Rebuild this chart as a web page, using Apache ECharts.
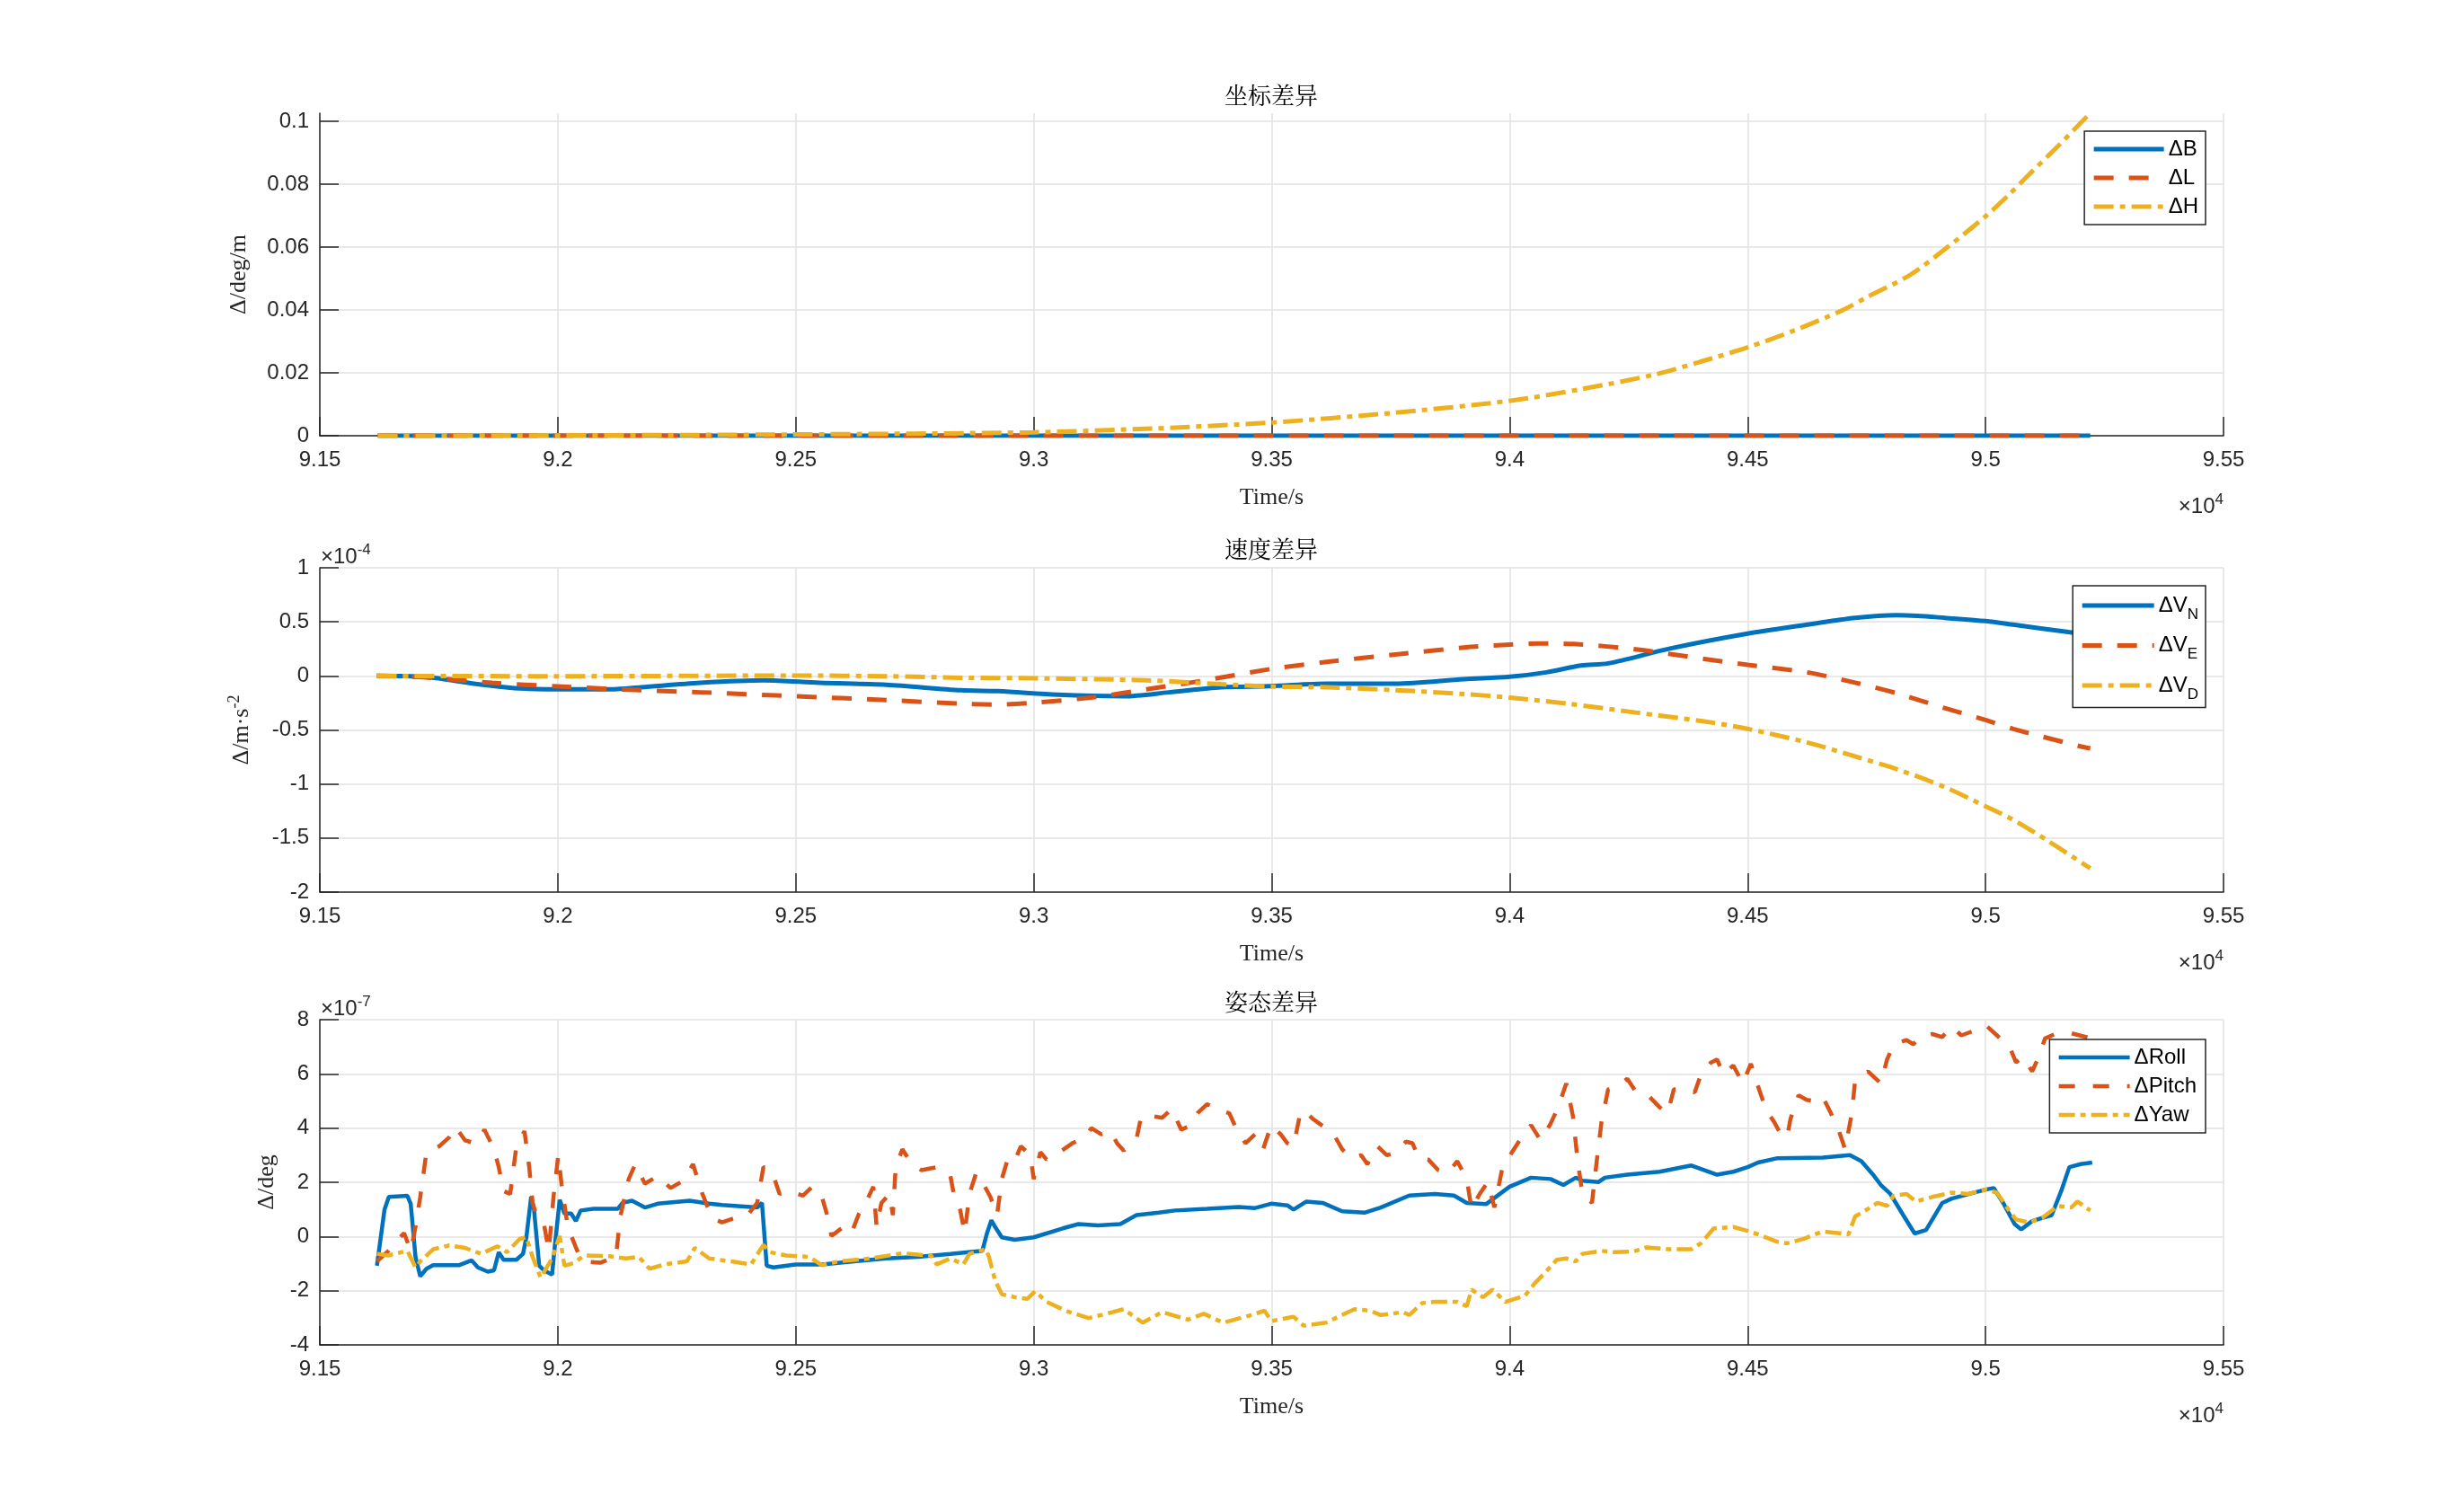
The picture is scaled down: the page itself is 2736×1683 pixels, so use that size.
<!DOCTYPE html>
<html>
<head>
<meta charset="utf-8">
<script src="https://cdn.jsdelivr.net/npm/echarts@6/dist/echarts.min.js"></script>
<style>
  html, body { margin: 0; padding: 0; background: #fff; }
  #chart { width: 2736px; height: 1683px; }
</style>
</head>
<body>
<div id="chart"></div>
<script>
// time axis (s)
const timeMin = 91500, timeMax = 95500, timeStep = 500;

// ---- coordinate difference (deg / m) ----
const dB = [[91622, 0], [95220, 0]];
const dL = [[91622, 0], [95220, 0]];
const dH = [[91622, 0], [92000, 0.0001], [92500, 0.0004], [93000, 0.0011], [93250, 0.0023],
  [93500, 0.0042], [93750, 0.0072], [94000, 0.0111], [94150, 0.0148], [94309, 0.0196],
  [94400, 0.0235], [94500, 0.0281], [94600, 0.0336], [94699, 0.0399], [94750, 0.0440],
  [94843, 0.0513], [94920, 0.0600], [95000, 0.0698], [95050, 0.0768], [95088, 0.0826],
  [95150, 0.0918], [95219, 0.1025]];

// ---- velocity difference (x1e-4 m/s) ----
const dVN = [[91620, 0], [91722, -0.01], [91831, -0.077], [91909, -0.113], [92000, -0.124],
  [92112, -0.124], [92175, -0.105], [92300, -0.064], [92433, -0.041], [92550, -0.064],
  [92690, -0.083], [92847, -0.133], [92925, -0.141], [93050, -0.174], [93190, -0.188],
  [93284, -0.152], [93394, -0.105], [93498, -0.095], [93615, -0.072], [93760, -0.072],
  [93904, -0.030], [94000, -0.008], [94077, 0.033], [94150, 0.096], [94207, 0.116],
  [94337, 0.253], [94500, 0.391], [94625, 0.474], [94726, 0.537], [94813, 0.562],
  [94856, 0.556], [94914, 0.537], [95000, 0.507], [95058, 0.474], [95174, 0.405], [95220, 0.38]];
const dVE = [[91620, 0], [91722, -0.014], [91862, -0.064], [92000, -0.097], [92175, -0.133],
  [92300, -0.152], [92500, -0.188], [92690, -0.224], [92847, -0.257], [92925, -0.265],
  [93000, -0.249], [93128, -0.196], [93237, -0.124], [93347, -0.050], [93500, 0.065],
  [93615, 0.129], [93760, 0.198], [93904, 0.262], [94000, 0.289], [94062, 0.300],
  [94135, 0.295], [94265, 0.245], [94409, 0.157], [94500, 0.102], [94625, 0.033],
  [94726, -0.063], [94813, -0.16], [94914, -0.298], [95000, -0.408], [95058, -0.49],
  [95203, -0.656], [95220, -0.67]];
const dVD = [[91620, 0], [91988, -0.003], [92500, 0.003], [92690, -0.003], [92847, -0.017],
  [93000, -0.022], [93237, -0.041], [93394, -0.077], [93500, -0.099], [93615, -0.105],
  [93760, -0.132], [93904, -0.168], [94000, -0.201], [94120, -0.256], [94265, -0.339],
  [94409, -0.421], [94500, -0.490], [94625, -0.615], [94726, -0.745], [94813, -0.862],
  [94914, -1.028], [95000, -1.207], [95058, -1.331], [95130, -1.523], [95220, -1.78]];

// ---- attitude difference (x1e-7 deg) ----
const dRoll = [[91620, -1.08], [91636, 1.0], [91645, 1.46], [91684, 1.5], [91691, 1.2], [91701, -0.75],
  [91711, -1.47], [91724, -1.19], [91738, -1.06], [91792, -1.06], [91819, -0.88], [91832, -1.14],
  [91853, -1.3], [91866, -1.25], [91876, -0.58], [91886, -0.86], [91913, -0.86], [91927, -0.64],
  [91934, -0.03], [91944, 1.46], [91950, 1.0], [91961, -1.08], [91971, -1.25], [91988, -1.41],
  [91994, -0.31], [92004, 1.35], [92014, 0.85], [92028, 0.85], [92038, 0.57], [92048, 0.96],
  [92075, 1.02], [92126, 1.02], [92136, 1.24], [92156, 1.32], [92183, 1.07], [92210, 1.21],
  [92277, 1.32], [92318, 1.21], [92345, 1.16], [92419, 1.07], [92429, 1.24], [92439, -1.08],
  [92453, -1.14], [92500, -1.03], [92555, -1.03], [92623, -0.92], [92690, -0.81], [92757, -0.75],
  [92825, -0.64], [92892, -0.53], [92902, 0.13], [92911, 0.6], [92919, 0.35], [92933, -0.03],
  [92960, -0.12], [93000, -0.03], [93061, 0.3], [93094, 0.46], [93135, 0.41], [93182, 0.46],
  [93216, 0.79], [93263, 0.88], [93297, 0.96], [93364, 1.02], [93431, 1.09], [93465, 1.05],
  [93499, 1.21], [93533, 1.15], [93546, 0.99], [93573, 1.29], [93607, 1.24], [93648, 0.93],
  [93695, 0.88], [93729, 1.07], [93789, 1.51], [93843, 1.57], [93883, 1.51], [93910, 1.24],
  [93951, 1.2], [94000, 1.84], [94045, 2.17], [94086, 2.12], [94113, 1.9], [94139, 2.17],
  [94153, 2.06], [94187, 2.01], [94200, 2.17], [94247, 2.28], [94315, 2.39], [94382, 2.62],
  [94436, 2.28], [94470, 2.39], [94500, 2.56], [94522, 2.73], [94563, 2.89], [94658, 2.91],
  [94715, 3.0], [94739, 2.78], [94766, 2.23], [94780, 1.9], [94800, 1.57], [94827, 0.79],
  [94851, 0.11], [94875, 0.24], [94909, 1.24], [94929, 1.4], [95000, 1.73], [95017, 1.79],
  [95037, 1.24], [95061, 0.46], [95075, 0.26], [95098, 0.57], [95139, 0.79], [95159, 1.68],
  [95176, 2.56], [95200, 2.67], [95224, 2.73]];
const dPitch = [[91620, -0.92], [91644, -0.53], [91677, 0.13], [91691, -0.53], [91701, 0.35], [91711, 1.46],
  [91724, 3.11], [91751, 3.33], [91772, 3.66], [91785, 4.05], [91805, 3.55], [91826, 3.44],
  [91846, 3.94], [91866, 3.22], [91876, 2.56], [91886, 1.68], [91900, 1.57], [91913, 3.33],
  [91930, 3.89], [91940, 2.56], [91947, 1.24], [91957, 0.68], [91971, 0.46], [91981, -0.53],
  [91991, 1.46], [92001, 3.0], [92008, 1.9], [92021, 0.35], [92041, -0.53], [92055, -0.92],
  [92089, -0.97], [92122, -0.75], [92132, 0.79], [92149, 2.12], [92163, 2.67], [92183, 1.95],
  [92210, 2.23], [92237, 1.79], [92264, 2.06], [92284, 2.67], [92304, 1.57], [92324, 0.68],
  [92345, 0.52], [92372, 0.68], [92399, 0.79], [92419, 1.24], [92432, 2.56], [92449, 2.45],
  [92466, 1.57], [92486, 1.68], [92515, 1.51], [92535, 1.84], [92555, 1.46], [92565, 0.85],
  [92575, 0.02], [92596, 0.3], [92616, 0.08], [92633, 0.85], [92650, 1.35], [92663, 1.84],
  [92670, 0.35], [92680, 1.24], [92697, 1.57], [92704, 0.79], [92710, 2.56], [92724, 3.22],
  [92744, 2.67], [92764, 2.45], [92798, 2.56], [92825, 2.23], [92832, 1.57], [92845, 1.02],
  [92855, 0.13], [92865, 1.57], [92879, 2.34], [92892, 2.01], [92909, 1.46], [92923, 0.79],
  [92933, 2.12], [92946, 2.89], [92960, 2.78], [92973, 3.33], [92993, 3.0], [93000, 2.12],
  [93014, 3.11], [93027, 2.84], [93054, 3.11], [93081, 3.44], [93108, 3.66], [93121, 4.0],
  [93142, 3.77], [93162, 3.89], [93175, 3.44], [93189, 3.17], [93216, 3.61], [93226, 4.44],
  [93249, 4.44], [93270, 4.38], [93290, 4.71], [93310, 3.94], [93331, 4.11], [93344, 4.55],
  [93364, 4.88], [93391, 4.66], [93411, 4.55], [93428, 3.89], [93445, 3.44], [93465, 3.77],
  [93482, 3.22], [93499, 4.11], [93519, 3.77], [93533, 3.44], [93546, 3.33], [93560, 4.55],
  [93567, 4.66], [93587, 4.33], [93614, 4.0], [93634, 3.66], [93648, 3.22], [93668, 2.89],
  [93688, 3.0], [93701, 2.67], [93722, 3.33], [93742, 3.0], [93762, 3.11], [93782, 3.5],
  [93796, 3.44], [93809, 2.89], [93829, 2.84], [93850, 2.45], [93870, 2.34], [93890, 2.78],
  [93910, 2.12], [93920, 1.02], [93937, 1.57], [93954, 2.01], [93968, 1.07], [93985, 2.56],
  [94005, 3.11], [94025, 3.66], [94045, 4.11], [94065, 3.55], [94086, 4.16], [94102, 4.77],
  [94119, 5.65], [94133, 4.44], [94143, 2.78], [94153, 1.57], [94173, 1.24], [94183, 2.78],
  [94193, 4.22], [94207, 5.43], [94227, 5.54], [94247, 5.82], [94268, 5.27], [94294, 5.15],
  [94315, 4.77], [94332, 4.55], [94345, 5.43], [94369, 5.43], [94389, 5.32], [94402, 5.98],
  [94423, 6.42], [94436, 6.53], [94449, 5.98], [94470, 6.31], [94490, 5.65], [94507, 6.37],
  [94522, 5.54], [94539, 4.66], [94556, 4.22], [94570, 3.77], [94583, 3.66], [94590, 4.33],
  [94607, 5.21], [94624, 5.04], [94644, 4.99], [94658, 5.15], [94675, 4.55], [94692, 3.89],
  [94705, 3.22], [94719, 4.55], [94726, 5.76], [94753, 6.09], [94780, 5.65], [94793, 6.53],
  [94807, 7.09], [94834, 7.25], [94848, 7.09], [94861, 7.36], [94888, 7.47], [94909, 7.36],
  [94929, 7.75], [94949, 7.42], [94983, 7.64], [95000, 7.8], [95024, 7.42], [95051, 6.98],
  [95064, 6.42], [95078, 6.64], [95098, 6.09], [95112, 6.64], [95125, 7.31], [95146, 7.47],
  [95180, 7.5], [95224, 7.3]];
const dYaw = [[91620, -0.64], [91644, -0.7], [91671, -0.58], [91684, -0.53], [91701, -1.14], [91711, -0.92],
  [91738, -0.47], [91772, -0.33], [91805, -0.42], [91839, -0.64], [91873, -0.36], [91893, -0.58],
  [91920, -0.09], [91934, -0.03], [91947, -0.75], [91964, -1.52], [91988, -0.81], [92004, 0.02],
  [92014, -1.08], [92035, -0.97], [92055, -0.7], [92109, -0.73], [92143, -0.81], [92170, -0.75],
  [92193, -1.19], [92224, -1.03], [92271, -0.92], [92288, -0.42], [92318, -0.81], [92365, -0.92],
  [92406, -1.03], [92432, -0.31], [92446, -0.58], [92480, -0.7], [92528, -0.75], [92555, -1.06],
  [92589, -0.92], [92656, -0.81], [92724, -0.62], [92757, -0.67], [92784, -0.7], [92796, -1.03],
  [92825, -0.81], [92852, -1.03], [92865, -0.64], [92899, -0.47], [92906, -0.75], [92919, -1.63],
  [92933, -2.13], [92960, -2.24], [92987, -2.3], [93003, -2.02], [93027, -2.41], [93067, -2.74],
  [93115, -3.01], [93142, -2.9], [93189, -2.68], [93229, -3.18], [93270, -2.79], [93324, -3.07],
  [93357, -2.85], [93398, -3.18], [93445, -2.96], [93485, -2.74], [93499, -3.12], [93546, -2.96],
  [93567, -3.29], [93614, -3.18], [93674, -2.68], [93708, -2.74], [93729, -2.9], [93776, -2.79],
  [93789, -2.9], [93816, -2.46], [93843, -2.41], [93890, -2.41], [93910, -2.57], [93920, -1.96],
  [93944, -2.24], [93964, -1.96], [93991, -2.41], [94032, -2.19], [94052, -1.74], [94079, -1.25],
  [94099, -0.86], [94119, -0.81], [94139, -0.92], [94153, -0.64], [94193, -0.53], [94220, -0.58],
  [94261, -0.55], [94288, -0.4], [94335, -0.47], [94382, -0.47], [94402, -0.25], [94429, 0.3],
  [94470, 0.35], [94503, 0.19], [94522, 0.08], [94563, -0.2], [94583, -0.25], [94617, -0.09],
  [94658, 0.19], [94712, 0.08], [94726, 0.74], [94753, 1.02], [94773, 1.24], [94793, 1.13],
  [94807, 1.51], [94834, 1.57], [94854, 1.29], [94888, 1.46], [94929, 1.62], [94963, 1.57],
  [95000, 1.73], [95024, 1.62], [95051, 0.91], [95064, 0.63], [95091, 0.52], [95119, 0.68],
  [95152, 1.13], [95180, 1.07], [95193, 1.29], [95220, 0.96]];

const titles = ['坐标差异', '速度差异', '姿态差异'];
const yNames = ['Δ/deg/m', '{a|Δ/m·s}{b|-2}', 'Δ/deg'];
const yRanges = [[0, 0.1026, 0.02], [-2, 1, 0.5], [-4, 8, 2]];

const blue = '#0072BD', red = '#D95319', yellow = '#EDB120';
const ink = '#262626';
const sans = '"Liberation Sans", Arial, sans-serif';
const serif = '"Liberation Serif", "Times New Roman", serif';
const cjk = '"Noto Serif CJK SC", "Noto Sans CJK SC", serif';

const grids = [
  { left: 356, right: 261, top: 126, height: 359 },
  { left: 356, right: 261, top: 632, height: 361 },
  { left: 356, right: 261, top: 1135, height: 362 }
];
const titleTops = [93, 598, 1102];
const yNameGaps = [77, 70, 46];

const xAxes = grids.map((g, i) => ({
  type: 'value', gridIndex: i, min: timeMin, max: timeMax, interval: timeStep,
  name: 'Time/s', nameLocation: 'middle', nameGap: 56,
  nameTextStyle: { fontFamily: serif, fontSize: 26, color: ink },
  axisLine: { show: true, onZero: false, lineStyle: { color: ink, width: 1.5 } },
  axisTick: { show: true, inside: true, length: 21, lineStyle: { color: ink, width: 1.5 } },
  axisLabel: { fontFamily: sans, fontSize: 24, color: ink, margin: 15,
    formatter: (v) => String(+(v / 1e4).toFixed(3)) },
  splitLine: { show: true, lineStyle: { color: '#e2e2e2', width: 1.5 } }
}));

const yAxes = grids.map((g, i) => ({
  type: 'value', gridIndex: i, min: yRanges[i][0], max: yRanges[i][1], interval: yRanges[i][2],
  name: yNames[i], nameLocation: 'middle', nameGap: yNameGaps[i], nameRotate: 90,
  nameTextStyle: { fontFamily: serif, fontSize: 26, color: ink,
    rich: { a: { fontFamily: serif, fontSize: 26, color: ink },
            b: { fontFamily: serif, fontSize: 18, color: ink, padding: [0, 0, 16, 0] } } },
  axisLine: { show: true, lineStyle: { color: ink, width: 1.5 } },
  axisTick: { show: true, inside: true, length: 21, lineStyle: { color: ink, width: 1.5 } },
  axisLabel: { fontFamily: sans, fontSize: 24, color: ink, margin: 12,
    showMaxLabel: i !== 0,
    formatter: (v) => String(+v.toFixed(3)) },
  splitLine: { show: true, showMaxLine: i !== 0, lineStyle: { color: '#e2e2e2', width: 1.5 } }
}));

const dashLong = [22, 17];
const dashDot = [22, 7, 6, 7];
const dashLongThin = [18, 20];
const dashDotThin = [18, 6, 6, 6];

function line(name, data, idx, color, width, type, smooth, z) {
  return {
    type: 'line', name, data, xAxisIndex: idx, yAxisIndex: idx,
    symbol: 'none', showSymbol: false, smooth: smooth, z: z,
    itemStyle: { color },
    lineStyle: { color, width, type, cap: 'butt' }
  };
}

const series = [
  line('ΔB', dB, 0, blue, 5, 'solid', false, 2),
  line('ΔL', dL, 0, red, 5, dashLong, false, 3),
  line('ΔH', dH, 0, yellow, 5, dashDot, 0.3, 4),
  line('ΔVN', dVN, 1, blue, 5, 'solid', 0.3, 2),
  line('ΔVE', dVE, 1, red, 5, dashLong, 0.3, 3),
  line('ΔVD', dVD, 1, yellow, 5, dashDot, 0.3, 4),
  line('ΔRoll', dRoll, 2, blue, 4.5, 'solid', false, 2),
  line('ΔPitch', dPitch, 2, red, 4.5, dashLongThin, false, 3),
  line('ΔYaw', dYaw, 2, yellow, 4.5, dashDotThin, false, 4)
];

const legendBase = {
  orient: 'vertical', right: 281, backgroundColor: '#fff',
  borderColor: ink, borderWidth: 1.5, borderRadius: 0,
  itemHeight: 24, selectedMode: false,
  itemStyle: { opacity: 0, borderWidth: 0 },
  lineStyle: { width: 'inherit', type: 'inherit', cap: 'butt' },
  textStyle: { fontFamily: sans, fontSize: 24, color: '#000',
    rich: { m: { fontFamily: sans, fontSize: 24, color: '#000' },
            s: { fontFamily: sans, fontSize: 17, color: '#000', padding: [20, 0, 0, 0] } } }
};
const velSub = { 'ΔVN': '{m|ΔV}{s|N}', 'ΔVE': '{m|ΔV}{s|E}', 'ΔVD': '{m|ΔV}{s|D}' };

const legends = [
  Object.assign({}, legendBase, { data: ['ΔB', 'ΔL', 'ΔH'], top: 146, itemWidth: 78, itemGap: 8,
    padding: [8, 8, 8, 8] }),
  Object.assign({}, legendBase, { data: ['ΔVN', 'ΔVE', 'ΔVD'], top: 652, itemWidth: 80, itemGap: 14,
    padding: [10, 8, 6, 8], formatter: (n) => velSub[n] }),
  Object.assign({}, legendBase, { data: ['ΔRoll', 'ΔPitch', 'ΔYaw'], top: 1157, itemWidth: 79, itemGap: 8,
    padding: [8, 10, 8, 8] })
];

const supRich = {
  a: { fontFamily: sans, fontSize: 24, fill: ink, color: ink },
  b: { fontFamily: sans, fontSize: 17, fill: ink, color: ink, padding: [0, 0, 16, 0] }
};
function powerLabel(text, x, y, align) {
  return { type: 'text', x, y, silent: true,
    style: { text, rich: supRich, align, verticalAlign: 'middle', fill: ink } };
}

const option = {
  animation: false,
  backgroundColor: '#fff',
  title: titles.map((t, i) => ({
    text: t, left: 1415, top: titleTops[i], textAlign: 'center', padding: 0,
    textStyle: { fontFamily: cjk, fontSize: 26, fontWeight: 'normal', color: '#000' }
  })),
  grid: grids,
  xAxis: xAxes,
  yAxis: yAxes,
  legend: legends,
  series,
  graphic: [
    powerLabel('{a|×10}{b|4}', 2475, 564, 'right'),
    powerLabel('{a|×10}{b|4}', 2475, 1072, 'right'),
    powerLabel('{a|×10}{b|4}', 2475, 1576, 'right'),
    powerLabel('{a|×10}{b|-4}', 357, 620, 'left'),
    powerLabel('{a|×10}{b|-7}', 357, 1123, 'left')
  ]
};

const chart = echarts.init(document.getElementById('chart'));
chart.setOption(option);
window.addEventListener('resize', () => chart.resize());
</script>
</body>
</html>
